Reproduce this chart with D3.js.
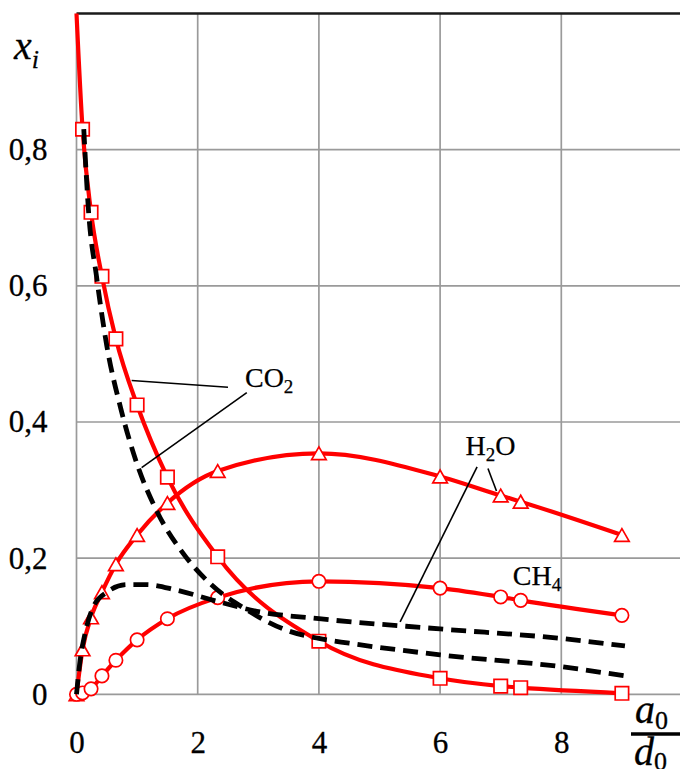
<!DOCTYPE html>
<html>
<head>
<meta charset="utf-8">
<script src="https://cdn.jsdelivr.net/npm/d3@7"></script>
<style>
  html, body { margin: 0; padding: 0; background: #fff; }
  svg { display: block; }
  text { font-family: "Liberation Serif", "Times New Roman", serif; fill: #000; }
</style>
</head>
<body>
<svg id="chart" width="680" height="769" font-family="Liberation Serif"></svg>
<script>
// Ratio a0/d0 at which the compositions were computed
const ratios = [0, 0.1, 0.24, 0.42, 0.65, 1, 1.5, 2.33, 4, 6, 7, 7.33, 9];

// Mole fractions x_i along the solid curves
const co2Values = [1.0, 0.83, 0.708, 0.614, 0.522, 0.425, 0.319, 0.202, 0.078, 0.0235, 0.012, 0.0097, 0.0015];
const h2oValues = [0, 0.066, 0.113, 0.150, 0.191, 0.234, 0.281, 0.328, 0.354, 0.320, 0.292, 0.283, 0.234];
const ch4Values = [0, 0.002, 0.008, 0.027, 0.050, 0.080, 0.111, 0.142, 0.166, 0.156, 0.143, 0.138, 0.116];

// Dashed curves (second set of CO2 and H2O results)
const co2DashRatios = [0.12, 0.2, 0.33, 0.5, 0.73, 1.0, 1.32, 1.76, 2.2, 2.81, 3.47, 4, 4.5, 6, 8, 9.05];
const co2DashValues = [0.83, 0.708, 0.614, 0.512, 0.42, 0.338, 0.27, 0.207, 0.163, 0.124, 0.094, 0.082, 0.075, 0.058, 0.0405, 0.027];
const h2oDashRatios = [0, 0.06, 0.14, 0.28, 0.5, 0.83, 1.16, 1.65, 2.26, 3.03, 4, 6, 8, 9.05];
const h2oDashValues = [0, 0.05, 0.089, 0.129, 0.150, 0.161, 0.161, 0.153, 0.138, 0.121, 0.111, 0.096, 0.082, 0.071];

// Axis ticks
const xTicks = [0, 2, 4, 6, 8];
const yTicks = [0, 0.2, 0.4, 0.6, 0.8];

const SERIF = "Liberation Serif";
const svg = d3.select("#chart");
const x = d3.scaleLinear().domain([0, 10]).range([76.5, 682.5]);
const y = d3.scaleLinear().domain([0, 1]).range([694.3, 13.5]);

const RED = "#ff0000";

// Grid
const grid = svg.append("g");
grid.selectAll("line.h").data(yTicks).join("line")
  .attr("x1", x(0)).attr("x2", x(10))
  .attr("y1", d => y(d)).attr("y2", d => y(d))
  .attr("stroke", "#9a9a9a").attr("stroke-width", 1.7);
grid.selectAll("line.v").data(xTicks).join("line")
  .attr("x1", d => x(d)).attr("x2", d => x(d))
  .attr("y1", y(0)).attr("y2", y(1))
  .attr("stroke", "#9a9a9a").attr("stroke-width", 1.7);
// top frame line
svg.append("line")
  .attr("x1", x(0)).attr("x2", x(10))
  .attr("y1", y(1)).attr("y2", y(1))
  .attr("stroke", "#1a1a1a").attr("stroke-width", 2.3);

// Axes (labels only)
const fmt = d => d === 0 ? "0" : d3.format(".1f")(d).replace(".", ",");
const yAxis = svg.append("g").attr("transform", `translate(${x(0)},0)`)
  .call(d3.axisLeft(y).tickValues(yTicks).tickSize(0).tickPadding(29).tickFormat(fmt));
const xAxis = svg.append("g").attr("transform", `translate(0,${y(0)})`)
  .call(d3.axisBottom(x).tickValues(xTicks).tickSize(0).tickPadding(37).tickFormat(d3.format("d")));
[yAxis, xAxis].forEach(a => {
  a.attr("font-family", SERIF).attr("font-size", 31);
  a.select(".domain").remove();
  a.selectAll("text")
    .style("font-family", SERIF).style("font-size", "31px")
    .attr("fill", "#000").attr("stroke", "#000").attr("stroke-width", 0.3);
});

// Curves
const solid = d3.line().x(d => x(d[0])).y(d => y(d[1])).curve(d3.curveMonotoneX);
const series = [
  { name: "co2", values: co2Values, marker: "square", markerFrom: 1 },
  { name: "h2o", values: h2oValues, marker: "triangle", markerFrom: 0 },
  { name: "ch4", values: ch4Values, marker: "circle", markerFrom: 0 }
];

series.forEach(s => {
  const pts = ratios.map((r, i) => [r, s.values[i]]);
  svg.append("path").datum(pts)
    .attr("d", solid)
    .attr("fill", "none").attr("stroke", RED).attr("stroke-width", 4.2)
    .attr("stroke-linejoin", "round");
});

// Markers
const markerPath = {
  square: "M-6.7,-6.7H6.7V6.7H-6.7Z",
  triangle: "M0,-6.4L7.3,6.4L-7.3,6.4Z",
  circle: d3.symbol(d3.symbolCircle, Math.PI * 6.7 * 6.7)()
};
series.forEach(s => {
  const pts = ratios.map((r, i) => [r, s.values[i]]).slice(s.markerFrom);
  svg.append("g").selectAll("path").data(pts).join("path")
    .attr("transform", d => `translate(${x(d[0])},${y(d[1])})`)
    .attr("d", markerPath[s.marker])
    .attr("fill", "#fff").attr("stroke", RED).attr("stroke-width", 1.7);
});

// Dashed curves
const dashed = [
  d3.zip(co2DashRatios, co2DashValues),
  d3.zip(h2oDashRatios, h2oDashValues)
];
dashed.forEach(pts => {
  svg.append("path").datum(pts)
    .attr("d", solid)
    .attr("fill", "none").attr("stroke", "#000").attr("stroke-width", 4.8)
    .attr("stroke-dasharray", "15 8");
});

// Curve labels with leader lines
const leaders = [
  [[0.91, 0.461], [2.50, 0.451]],
  [[2.81, 0.443], [1.075, 0.333]],
  [[6.61, 0.334], [5.34, 0.1065]],
  [[6.79, 0.3316], [6.93, 0.2987]]
];
svg.append("g").selectAll("line").data(leaders).join("line")
  .attr("x1", d => x(d[0][0])).attr("y1", d => y(d[0][1]))
  .attr("x2", d => x(d[1][0])).attr("y2", d => y(d[1][1]))
  .attr("stroke", "#000").attr("stroke-width", 1.6);

function formula(parts, px, py) {
  const t = svg.append("text").attr("x", x(px)).attr("y", y(py))
    .style("font-family", SERIF).style("font-size", "28px")
    .attr("stroke", "#000").attr("stroke-width", 0.25);
  let shifted = false;
  parts.forEach(p => {
    const sub = /^[0-9]$/.test(p);
    const ts = t.append("tspan").text(p);
    if (sub) { ts.style("font-size", "19px").attr("dy", 6); shifted = true; }
    else if (shifted) { ts.attr("dy", -6); shifted = false; }
  });
}
formula(["CO", "2"], 2.78, 0.452);
formula(["H", "2", "O"], 6.42, 0.351);
formula(["CH", "4"], 7.2, 0.160);

// Axis titles
function italicTitle(letter, sub, px, py, subDy) {
  const t = svg.append("text").attr("x", px).attr("y", py)
    .style("font-family", SERIF).style("font-size", "40px").style("font-style", "italic")
    .attr("stroke", "#000").attr("stroke-width", 0.3);
  t.append("tspan").text(letter);
  t.append("tspan").text(sub).style("font-size", "26px").attr("dy", subDy)
    .style("font-style", sub === "i" ? "italic" : "normal");
  return t;
}
italicTitle("x", "i", 14, 59, 9);
italicTitle("a", "0", 635, 723, 6);
svg.append("line").attr("x1", 631).attr("x2", 680).attr("y1", 734).attr("y2", 734)
  .attr("stroke", "#000").attr("stroke-width", 3.5);
italicTitle("d", "0", 634, 765, 5);
</script>
</body>
</html>
